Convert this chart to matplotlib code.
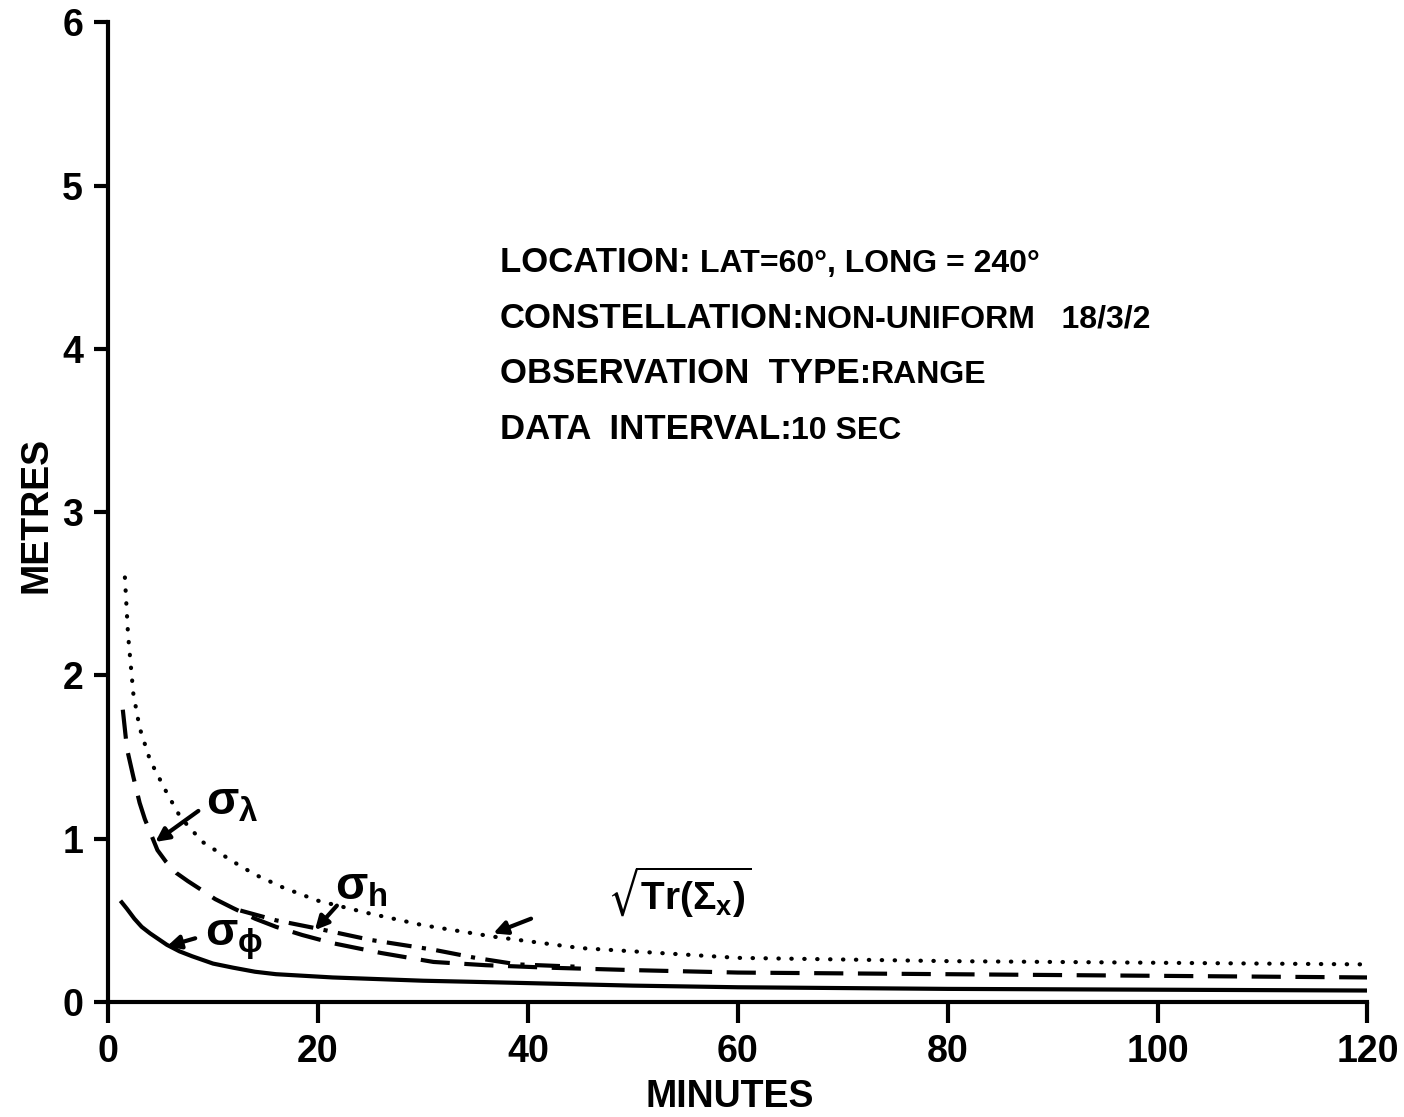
import numpy as np
import matplotlib
matplotlib.use('Agg')
import matplotlib.pyplot as plt

plt.rcParams['font.family'] = ['Liberation Sans', 'DejaVu Sans']
plt.rcParams['font.weight'] = 'bold'
plt.rcParams['mathtext.default'] = 'regular'

# values (minutes, metres)
trace_t = [1.6, 1.9, 2.4, 3.0, 4.0, 5.6, 6.9, 9.0, 11.9, 14.0, 16.7, 20.0, 24.7, 30.0, 36.7, 45.0, 60.0, 80.0, 100.0, 120.0]
trace_m = [2.6, 2.25, 1.89, 1.68, 1.48, 1.28, 1.13, 0.98, 0.86, 0.78, 0.70, 0.62, 0.545, 0.47, 0.40, 0.33, 0.27, 0.25, 0.24, 0.23]

lam_t = [1.4, 1.8, 2.4, 3.0, 3.5, 4.7, 5.5, 6.5, 7.6, 8.8, 10.2, 11.9, 14.0, 16.0, 18.5, 21.4, 26.0, 31.0, 36.0, 41.9, 50.0, 60.0, 80.0, 100.0, 120.0]
lam_m = [1.79, 1.55, 1.38, 1.22, 1.12, 0.93, 0.86, 0.79, 0.74, 0.69, 0.63, 0.575, 0.51, 0.46, 0.41, 0.36, 0.30, 0.245, 0.225, 0.21, 0.195, 0.18, 0.17, 0.16, 0.15]

h_t = [12.6, 16.0, 19.9, 25.0, 31.0, 35.0, 39.0, 45.0]
h_m = [0.56, 0.50, 0.45, 0.38, 0.32, 0.27, 0.23, 0.215]

phi_t = [1.3, 1.8, 2.5, 3.2, 4.0, 4.8, 5.6, 6.8, 8.0, 10.0, 11.9, 14.0, 16.0, 21.4, 30.0, 37.0, 50.0, 60.0, 80.0, 100.0, 120.0]
phi_m = [0.61, 0.57, 0.51, 0.46, 0.42, 0.385, 0.35, 0.31, 0.28, 0.235, 0.21, 0.185, 0.17, 0.15, 0.13, 0.12, 0.10, 0.09, 0.08, 0.075, 0.07]

info_heads = ['LOCATION: ', 'CONSTELLATION:', 'OBSERVATION  TYPE:', 'DATA  INTERVAL:']
info_vals = ['LAT=60°, LONG = 240°', 'NON-UNIFORM   18/3/2', 'RANGE', '10 SEC']
info_y = [4.47, 4.13, 3.79, 3.45]

fig = plt.figure(figsize=(14.04, 11.17), dpi=100)
ax = fig.add_axes([0.077, 0.103, 0.897, 0.877])

lw = 3
ax.plot(trace_t, trace_m, color='black', lw=lw, linestyle=(0, (0.1, 3.0)), dash_capstyle='round')
ax.plot(lam_t, lam_m, color='black', lw=lw, linestyle=(0, (7, 3.5)))
ax.plot(h_t, h_m, color='black', lw=lw, linestyle=(0, (6, 2.5, 1, 2.5)))
ax.plot(phi_t, phi_m, color='black', lw=lw, linestyle='-')

ax.set_xlim(0, 120)
ax.set_ylim(0, 6)
ax.set_xticks([0, 20, 40, 60, 80, 100, 120])
ax.set_yticks([0, 1, 2, 3, 4, 5, 6])
ax.tick_params(axis='x', direction='out', length=15, width=3, labelsize=27, pad=8)
ax.tick_params(axis='y', direction='out', length=10, width=3, labelsize=27, pad=8)
for lab in ax.get_xticklabels() + ax.get_yticklabels():
    lab.set_fontweight('bold')
for s in ['top', 'right']:
    ax.spines[s].set_visible(False)
for s in ['left', 'bottom']:
    ax.spines[s].set_linewidth(3)

ax.set_xlabel('MINUTES', fontsize=27, fontweight='bold', va='center')
ax.set_ylabel('METRES', fontsize=27, fontweight='bold', va='center')
ax.xaxis.set_label_coords(0.494, -0.097)
ax.yaxis.set_label_coords(-0.057, 0.497)

for head, val, y in zip(info_heads, info_vals, info_y):
    t1 = ax.text(37.3, y, head, fontsize=25, fontweight='bold', va='baseline', ha='left')
    ax.annotate(val, xy=(1, 0), xycoords=t1, fontsize=23, fontweight='bold',
                va='bottom', ha='left')

arrow = dict(arrowstyle='-|>', color='black', lw=3, mutation_scale=20, shrinkA=0, shrinkB=0)
ax.annotate('', xy=(4.5, 0.98), xytext=(8.6, 1.17), arrowprops=arrow)
ax.annotate('', xy=(19.7, 0.44), xytext=(21.8, 0.59), arrowprops=arrow)
ax.annotate('', xy=(5.6, 0.34), xytext=(8.3, 0.39), arrowprops=arrow)
ax.annotate('', xy=(36.7, 0.42), xytext=(40.3, 0.51), arrowprops=arrow)

ax.text(9.3, 1.22, r'$\sigma_\lambda$', fontsize=34, ha='left', va='center')
ax.text(21.6, 0.70, r'$\sigma_h$', fontsize=34, ha='left', va='center')
ax.text(9.2, 0.38, r'$\sigma_\phi$', fontsize=34, ha='left', va='center')
ax.text(47.6, 0.67, r'$\sqrt{Tr(\Sigma_x)}$', fontsize=28, ha='left', va='center')

fig.savefig('out.png', dpi=100)
